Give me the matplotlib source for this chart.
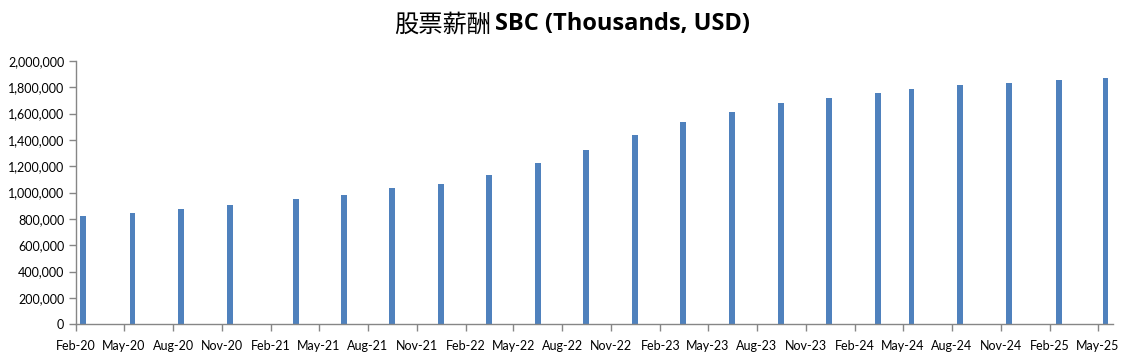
import numpy as np
import pandas as pd
import matplotlib.pyplot as plt
import matplotlib.dates as mdates
from matplotlib.ticker import FuncFormatter, MultipleLocator

# quarterly stock-based compensation, thousands USD
dates = pd.to_datetime([
    "2020-02-14", "2020-05-17", "2020-08-16", "2020-11-16",
    "2021-03-19", "2021-06-17", "2021-09-16", "2021-12-16",
    "2022-03-17", "2022-06-16", "2022-09-15", "2022-12-16",
    "2023-03-16", "2023-06-16", "2023-09-15", "2023-12-15",
    "2024-03-16", "2024-05-17", "2024-08-16", "2024-11-16",
    "2025-02-17", "2025-05-16",
])
sbc = [825000, 848000, 878000, 909000,
       954000, 985000, 1038000, 1068000,
       1137000, 1228000, 1326000, 1440000,
       1539000, 1615000, 1683000, 1721000,
       1759000, 1790000, 1820000, 1835000,
       1858000, 1873000]

fig = plt.figure(figsize=(11.35, 3.63), dpi=100)
ax = fig.add_axes([0.067, 0.1066, 0.9136, 0.7254])

ax.bar(dates, sbc, width=11, color="#4F81BD", align="center")

ax.set_xlim(pd.Timestamp("2020-02-01"), pd.Timestamp("2025-05-30"))
ax.set_ylim(0, 2000000)
ax.xaxis.set_major_locator(mdates.MonthLocator(bymonth=[2, 5, 8, 11], bymonthday=1))
ax.xaxis.set_major_formatter(mdates.DateFormatter("%b-%y"))
ax.yaxis.set_major_locator(MultipleLocator(200000))
ax.yaxis.set_major_formatter(FuncFormatter(lambda v, p: f"{int(v):,}"))

for s in ["top", "right"]:
    ax.spines[s].set_visible(False)
for s in ["left", "bottom"]:
    ax.spines[s].set_color("#868686")
    ax.spines[s].set_linewidth(1)
ax.tick_params(axis="both", colors="#868686", length=5, width=1,
               labelcolor="black", labelsize=9)
ax.tick_params(axis="x", pad=6)
for lab in ax.get_xticklabels() + ax.get_yticklabels():
    lab.set_family("Lato")

# title: CJK part in regular weight, latin part bold
fig.text(0.4325, 0.933, "股票薪酬", ha="right", va="center",
         family="Noto Sans CJK SC", fontsize=17.5)
fig.text(0.4360, 0.933, "SBC (Thousands, USD)", ha="left", va="center",
         family="Open Sans", fontweight="bold", fontsize=17)

fig.savefig("out.png", dpi=100)
